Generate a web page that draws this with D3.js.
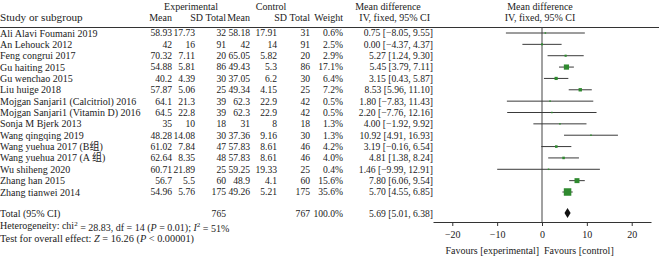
<!DOCTYPE html>
<html><head><meta charset="utf-8">
<script src="https://cdn.jsdelivr.net/npm/d3@7"></script>
<style>
body{margin:0;background:#fff}
svg text{font-family:"Liberation Serif","Noto Sans CJK SC",serif;fill:#222}
</style></head><body><div id="graph"></div>
<script>
var studies = ['Ali Alavi Foumani 2019', 'An Lehouck 2012', 'Feng congrui 2017', 'Gu haiting 2015', 'Gu wenchao 2015',
  'Liu huige 2018', 'Mojgan Sanjari1 (Calcitriol) 2016', 'Mojgan Sanjari1 (Vitamin D) 2016', 'Sonja M Bjerk 2013',
  'Wang qingqing 2019', 'Wang yuehua 2017 (B组)', 'Wang yuehua 2017 (A 组)', 'Wu shiheng 2020', 'Zhang han 2015', 'Zhang tianwei 2014']
var expMean = [58.93, 42, 70.32, 54.88, 40.2, 57.87, 64.1, 64.5, 35, 48.28, 61.02, 62.64, 60.71, 56.7, 54.96]
var expSD = [17.73, 16, 7.11, 5.81, 4.39, 5.06, 21.3, 22.8, 10, 14.08, 7.84, 8.35, 21.89, 5.5, 5.76]
var expN = [32, 91, 20, 86, 30, 25, 39, 39, 18, 30, 47, 48, 25, 60, 175]
var ctlMean = [58.18, 42, 65.05, 49.43, 37.05, 49.34, 62.3, 62.3, 31, 37.36, 57.83, 57.83, 59.25, 48.9, 49.26]
var ctlSD = [17.91, 14, 5.82, 5.3, 6.2, 4.15, 22.9, 22.9, 8, 9.16, 8.61, 8.61, 19.33, 4.1, 5.21]
var ctlN = [31, 91, 20, 86, 30, 25, 42, 42, 18, 30, 46, 46, 25, 60, 175]
var weight = [0.6, 2.5, 2.9, 17.1, 6.4, 7.2, 0.5, 0.5, 1.3, 1.3, 4.2, 4.0, 0.4, 15.6, 35.6]
var md = [0.75, 0.00, 5.27, 5.45, 3.15, 8.53, 1.80, 2.20, 4.00, 10.92, 3.19, 4.81, 1.46, 7.80, 5.70]
var lo = [-8.05, -4.37, 1.24, 3.79, 0.43, 5.96, -7.83, -7.76, -1.92, 4.91, -0.16, 1.38, -9.99, 6.06, 4.55]
var hi = [9.55, 4.37, 9.30, 7.11, 5.87, 11.10, 11.43, 12.16, 9.92, 16.93, 6.54, 8.24, 12.91, 9.54, 6.85]
var total = {expN: 765, ctlN: 767, weight: 100.0, md: 5.69, lo: 5.01, hi: 6.38}
var xTicks = [-20, -10, 0, 10, 20]

var fmt2 = d => (d < 0 ? '−' : '') + Math.abs(d).toFixed(2)
var ciText = (m, l, h) => fmt2(m) + ' [' + fmt2(l) + ', ' + fmt2(h) + ']'

var svg = d3.select('#graph').append('svg').attr('width', 659).attr('height', 258)

var y = d3.scaleLinear().domain([0, studies.length - 1]).range([33, 192])
var x = d3.scaleLinear().domain([-24.3, 24.3]).range([433, 651])
var size = d3.scaleSqrt().domain([0, 35.6]).range([0, 7.5])
var green = '#2f8a2f'
var numFs = 9.6

// column right edges (values) and header right edges
var cols = [
  {x: 172, hx: 172, h: 'Mean', v: expMean},
  {x: 195, hx: 203, h: 'SD', v: expSD},
  {x: 226, hx: 226, h: 'Total', v: expN},
  {x: 250, hx: 250, h: 'Mean', v: ctlMean},
  {x: 277, hx: 287, h: 'SD', v: ctlSD},
  {x: 310, hx: 310, h: 'Total', v: ctlN},
  {x: 343, hx: 343, h: 'Weight', v: weight.map(d => d.toFixed(1) + '%')},
  {x: 433, hx: 430, h: 'IV, fixed, 95% CI', v: md.map((d, i) => ciText(d, lo[i], hi[i]))},
]

function txt(s, tx, ty, anchor, fs){
  return svg.append('text').attr('x', tx).attr('y', ty).attr('dy', '0.35em')
    .attr('text-anchor', anchor || 'start').attr('font-size', fs || 10).text(s)
}

// headers
txt('Experimental', 191, 6, 'middle')
txt('Control', 271, 6, 'middle')
txt('Mean difference', 388, 6, 'middle')
txt('Mean difference', 540, 6, 'middle')
txt('IV, fixed, 95% CI', 540, 17, 'middle')
txt('Study or subgroup', 0, 17, 'start', 11.2)
cols.forEach(c => txt(c.h, c.hx, 17, 'end'))

svg.append('line').attr('x1', 0).attr('x2', 659).attr('y1', 27.5).attr('y2', 27.5)
  .attr('stroke', '#333').attr('stroke-width', 1)

// rows
studies.forEach((s, i) => {
  txt(s, 0, y(i), 'start', 10)
  cols.forEach(c => txt(c.v[i], c.x, y(i), 'end', numFs))
})

// totals
var yT = 213.5
txt('Total (95% CI)', 0, yT, 'start', 10)
txt(total.expN, 226, yT, 'end', numFs)
txt(total.ctlN, 310, yT, 'end', numFs)
txt(total.weight.toFixed(1) + '%', 343, yT, 'end', numFs)
txt(ciText(total.md, total.lo, total.hi), 433, yT, 'end', numFs)

var het = txt('', 0, 225.5, 'start', 10)
het.append('tspan').text('Heterogeneity: chi')
het.append('tspan').text('2').attr('font-size', 7).attr('dy', '-0.5em')
het.append('tspan').text(' = 28.83, df = 14 (').attr('dy', '0.5em')
het.append('tspan').text('P').attr('font-style', 'italic')
het.append('tspan').text(' = 0.01); ')
het.append('tspan').text('I').attr('font-style', 'italic')
het.append('tspan').text('2').attr('font-size', 7).attr('dy', '-0.5em')
het.append('tspan').text(' = 51%').attr('dy', '0.5em')

var tst = txt('', 0, 238.5, 'start', 10.3)
tst.append('tspan').text('Test for overall effect: ')
tst.append('tspan').text('Z').attr('font-style', 'italic')
tst.append('tspan').text(' = 16.26 (')
tst.append('tspan').text('P').attr('font-style', 'italic')
tst.append('tspan').text(' < 0.00001)')

// plot
svg.append('line').attr('x1', x(0)).attr('x2', x(0)).attr('y1', 27.5).attr('y2', 222)
  .attr('stroke', '#444').attr('stroke-width', 1)

var g = svg.append('g')
g.selectAll('line.ci').data(studies).join('line').attr('class', 'ci')
  .attr('x1', (d, i) => x(lo[i])).attr('x2', (d, i) => x(hi[i]))
  .attr('y1', (d, i) => y(i)).attr('y2', (d, i) => y(i))
  .attr('stroke', '#3a3a3a').attr('stroke-width', 1)

var side = i => Math.max(1.5, size(weight[i]))
g.selectAll('rect').data(studies).join('rect')
  .attr('x', (d, i) => x(md[i]) - side(i) / 2)
  .attr('y', (d, i) => y(i) - side(i) / 2)
  .attr('width', (d, i) => side(i))
  .attr('height', (d, i) => side(i))
  .attr('fill', green)

var dia = [[total.lo, 0], [total.md, -5], [total.hi, 0], [total.md, 5]]
svg.append('path')
  .attr('d', d3.line().x(d => x(d[0])).y(d => yT - 0.5 + d[1])(dia) + 'Z')
  .attr('fill', '#111')

var axis = svg.append('g').attr('transform', 'translate(0,222)')
  .call(d3.axisBottom(x).tickValues(xTicks).tickSize(4).tickSizeOuter(0)
    .tickFormat(d => (d < 0 ? '−' : '') + Math.abs(d)))
axis.select('.domain').attr('stroke', '#333')
axis.selectAll('.tick line').attr('stroke', '#333')
axis.selectAll('.tick text').attr('font-size', 10).attr('font-family', 'Liberation Serif').attr('fill', '#222').attr('y', 9)

txt('Favours [experimental]', 539, 250, 'end')
txt('Favours [control]', 544, 250, 'start')
</script></body></html>
